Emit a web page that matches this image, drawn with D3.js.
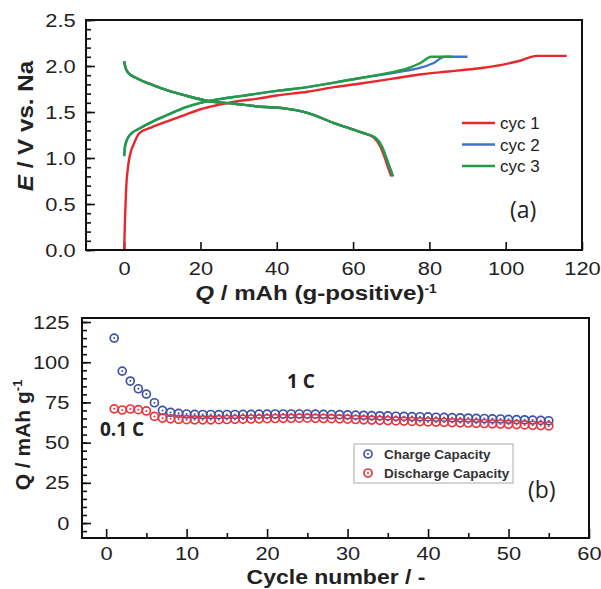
<!DOCTYPE html>
<html>
<head>
<meta charset="utf-8">
<script src="https://cdn.jsdelivr.net/npm/d3@7"></script>
<style>
  body { margin: 0; background: #fff; }
  svg { display: block; font-family: "Liberation Sans", Arial, sans-serif; }
</style>
</head>
<body>
<svg id="chart" width="601" height="589"></svg>
<script>
// ---- (a) voltage profiles: [Q, E] pairs
const cyc1Charge = [[0,0],[0.2,0.3],[0.5,0.65],[1,0.9],[1.5,1.03],[2.5,1.15],[4,1.27],[7,1.33],[12,1.41],[16,1.47],[20,1.53],[25,1.58],[30,1.62],[35,1.645],[40,1.68],[48,1.72],[55,1.77],[62,1.81],[70,1.86],[78,1.91],[85,1.94],[92,1.97],[98.6,2.01],[104,2.06],[108,2.11],[116,2.11]];
const cyc2Charge = [[0,1.02],[0.15,1.1],[0.5,1.17],[1,1.22],[2,1.27],[4,1.32],[7.7,1.4],[12,1.48],[16,1.55],[20,1.6],[25,1.64],[30,1.67],[35,1.7],[40,1.73],[48,1.77],[55,1.82],[62,1.87],[70,1.92],[74,1.95],[77.5,1.98],[81,2.03],[84,2.1],[90,2.1]];
const cyc3Charge = [[0,1.02],[0.15,1.1],[0.5,1.17],[1,1.22],[2,1.27],[4,1.32],[7.7,1.4],[12,1.48],[16,1.55],[20,1.6],[25,1.64],[30,1.67],[35,1.7],[40,1.73],[48,1.77],[55,1.82],[62,1.87],[70,1.93],[74,1.97],[77.5,2.03],[80.5,2.1],[86,2.1]];
const cyc1Discharge = [[0,2.05],[0.3,1.99],[1,1.93],[3.2,1.87],[7.7,1.79],[11.8,1.73],[16,1.68],[22,1.62],[29,1.59],[35,1.56],[42,1.54],[45,1.52],[48,1.49],[55,1.38],[62,1.28],[65.5,1.22],[67.2,1.12],[68.5,0.98],[69.3,0.88],[70,0.8]];
const cyc2Discharge = [[0,2.05],[0.3,1.99],[1,1.93],[3.2,1.87],[7.7,1.79],[11.8,1.73],[16,1.68],[22,1.62],[29,1.59],[35,1.56],[42,1.54],[45,1.52],[48,1.49],[55,1.38],[62,1.28],[65.8,1.22],[67.6,1.12],[68.9,0.98],[69.7,0.88],[70.4,0.8]];
const cyc3Discharge = [[0,2.05],[0.3,1.99],[1,1.93],[3.2,1.87],[7.7,1.79],[11.8,1.73],[16,1.68],[22,1.62],[29,1.59],[35,1.56],[42,1.54],[45,1.52],[48,1.49],[55,1.38],[62,1.28],[65.8,1.22],[67.6,1.12],[68.9,0.98],[69.8,0.88],[70.5,0.8]];
const cycNames = ['cyc 1', 'cyc 2', 'cyc 3'];
const cycColors = ['#e8272d', '#4472c4', '#1f9e44'];

// ---- (b) cycling
const cycles = d3.range(1, 56);
const chargeCap = [115,94.5,88.3,83.5,80.2,74.8,70,68.8,68.2,67.8,67.6,67.5,67.5,67.4,67.5,67.5,67.6,67.6,67.7,67.7,67.8,67.8,67.8,67.8,67.8,67.7,67.6,67.5,67.4,67.3,67.1,67.0,66.8,66.7,66.6,66.4,66.3,66.2,66.1,66.0,65.8,65.7,65.5,65.4,65.3,65.1,65.0,64.8,64.7,64.5,64.3,64.2,64.0,63.8,63.6];
const dischargeCap = [71,70.3,70.9,70.5,69.7,66.3,65.3,64.8,64.5,64.3,64.2,64.2,64.2,64.3,64.4,64.5,64.6,64.7,64.8,64.9,65,65.1,65.1,65.2,65.2,65.1,65.0,64.9,64.8,64.6,64.4,64.2,64.0,63.9,63.7,63.5,63.4,63.2,63.1,62.9,62.8,62.6,62.5,62.3,62.2,62.0,61.9,61.7,61.6,61.4,61.2,61.0,60.8,60.6,60.4];
const capNames = ['Charge Capacity', 'Discharge Capacity'];
const capColors = ['#3d52a8', '#e8343c'];

const svg = d3.select('#chart');
const SX = 'scale(1.15,1)';

function frame(x0, y0, x1, y1) {
  svg.append('rect')
    .attr('x', x0).attr('y', y0)
    .attr('width', x1 - x0).attr('height', y1 - y0)
    .attr('fill', 'none').attr('stroke', '#111').attr('stroke-width', 2);
}

function styleAxis(g) {
  g.select('.domain').remove();
  g.selectAll('.tick line').attr('stroke', '#111').attr('stroke-width', 1.6);
  g.selectAll('.tick text').attr('font-size', 19).attr('fill', '#222').attr('transform', SX);
}

// ================= panel (a)
const xA = d3.scaleLinear().domain([-10, 120]).range([86, 582]);
const yA = d3.scaleLinear().domain([0, 2.5]).range([250, 20]);

svg.append('g').attr('transform', 'translate(0,250)')
  .call(d3.axisBottom(xA).tickValues(d3.range(0, 121, 20)).tickSizeInner(-8).tickSizeOuter(0).tickPadding(12))
  .call(styleAxis);
svg.append('g').attr('transform', 'translate(86,0)')
  .call(d3.axisLeft(yA).tickValues(d3.range(0, 2.51, 0.1)).tickSize(-5).tickFormat(''))
  .call(styleAxis);
svg.append('g').attr('transform', 'translate(86,0)')
  .call(d3.axisLeft(yA).tickValues([0, 0.5, 1, 1.5, 2, 2.5]).tickFormat(d3.format('.1f')).tickSizeInner(-9).tickSizeOuter(0).tickPadding(9))
  .call(styleAxis);

const lineA = d3.line().x(d => xA(d[0])).y(d => yA(d[1])).curve(d3.curveMonotoneX);
const profiles = [
  [cyc1Charge, cyc1Discharge],
  [cyc2Charge, cyc2Discharge],
  [cyc3Charge, cyc3Discharge]
];
profiles.forEach((pair, i) => {
  pair.forEach(p => {
    svg.append('path').datum(p)
      .attr('fill', 'none').attr('stroke', cycColors[i])
      .attr('stroke-width', 2.4).attr('stroke-linejoin', 'round')
      .attr('d', lineA);
  });
});
frame(86, 20, 582, 250);

// legend (a)
cycNames.forEach((n, i) => {
  const y = 123 + i * 21.5;
  svg.append('line').attr('x1', 462).attr('x2', 495).attr('y1', y).attr('y2', y)
    .attr('stroke', cycColors[i]).attr('stroke-width', 2.4);
  svg.append('text').attr('x', 500).attr('y', y).attr('dy', '0.36em')
    .attr('font-size', 17).attr('fill', '#222').text(n);
});
svg.append('text').attr('x', 510).attr('y', 218)
  .attr('font-family', '"Open Sans", sans-serif').attr('font-size', 23).attr('fill', '#222').text('(a)');

// titles (a)
const tA = svg.append('text').attr('transform', 'translate(316,300) ' + SX)
  .attr('text-anchor', 'middle').attr('font-size', 21).attr('font-weight', 'bold').attr('fill', '#222');
tA.append('tspan').attr('font-style', 'italic').text('Q');
tA.append('tspan').text(' / mAh (g-positive)');
tA.append('tspan').attr('font-size', 12).attr('dy', -7).text('-1');

const tyA = svg.append('text').attr('transform', 'translate(33,126) rotate(-90) scale(1.1,1)')
  .attr('text-anchor', 'middle').attr('font-size', 22).attr('font-weight', 'bold').attr('fill', '#222');
tyA.append('tspan').attr('font-style', 'italic').text('E');
tyA.append('tspan').text(' / V vs. Na');

// ================= panel (b)
const xB = d3.scaleLinear().domain([-3, 60]).range([82, 589]);
const yB = d3.scaleLinear().domain([-9.3, 127.5]).range([538, 318]);

svg.append('g').attr('transform', 'translate(0,538)')
  .call(d3.axisBottom(xB).tickValues(d3.range(5, 60, 10)).tickSize(-5).tickFormat(''))
  .call(styleAxis);
svg.append('g').attr('transform', 'translate(0,538)')
  .call(d3.axisBottom(xB).tickValues(d3.range(0, 61, 10)).tickSizeInner(-9).tickSizeOuter(0).tickPadding(9))
  .call(styleAxis);
svg.append('g').attr('transform', 'translate(82,0)')
  .call(d3.axisLeft(yB).tickValues(d3.range(-5, 126, 5)).tickSize(-5).tickFormat(''))
  .call(styleAxis);
svg.append('g').attr('transform', 'translate(82,0)')
  .call(d3.axisLeft(yB).tickValues(d3.range(0, 126, 25)).tickSizeInner(-9).tickSizeOuter(0).tickPadding(11))
  .call(styleAxis);

function marker(g, x, y, color) {
  g.append('circle').attr('cx', x).attr('cy', y).attr('r', 4)
    .attr('fill', 'none').attr('stroke', color).attr('stroke-width', 1.7);
  g.append('circle').attr('cx', x).attr('cy', y).attr('r', 1).attr('fill', color);
}

const mk = svg.append('g');
[chargeCap, dischargeCap].forEach((s, k) => {
  s.forEach((v, i) => marker(mk, xB(cycles[i]), yB(v), capColors[k]));
});
frame(82, 318, 589, 538);

// legend (b)
svg.append('rect').attr('x', 354).attr('y', 444).attr('width', 159).attr('height', 39)
  .attr('fill', '#fff').attr('stroke', '#aaa').attr('stroke-width', 1);
capNames.forEach((n, i) => {
  const y = 454 + i * 19;
  marker(svg, 368, y, capColors[i]);
  svg.append('text').attr('x', 384).attr('y', y).attr('dy', '0.36em')
    .attr('font-size', 13.5).attr('font-weight', 'bold').attr('fill', '#333').text(n);
});
svg.append('text').attr('x', 528).attr('y', 498)
  .attr('font-family', '"Open Sans", sans-serif').attr('font-size', 23).attr('fill', '#222').text('(b)');

svg.append('text').attr('x', 287).attr('y', 388)
  .attr('font-family', '"Open Sans", sans-serif').attr('font-weight', 'bold').attr('font-size', 19).attr('fill', '#222').text('1 C');
svg.append('text').attr('x', 100).attr('y', 436)
  .attr('font-family', '"Open Sans", sans-serif').attr('font-weight', 'bold').attr('font-size', 19).attr('fill', '#222').text('0.1 C');

// titles (b)
svg.append('text').attr('transform', 'translate(336,584) ' + SX)
  .attr('text-anchor', 'middle').attr('font-size', 20).attr('font-weight', 'bold').attr('fill', '#222')
  .text('Cycle number / -');

const tyB = svg.append('text').attr('transform', 'translate(30,435) rotate(-90)')
  .attr('text-anchor', 'middle').attr('font-size', 21).attr('font-weight', 'bold').attr('fill', '#222');
tyB.append('tspan').text('Q / mAh g');
tyB.append('tspan').attr('font-size', 13).attr('dy', -8).text('-1');
</script>
</body>
</html>
